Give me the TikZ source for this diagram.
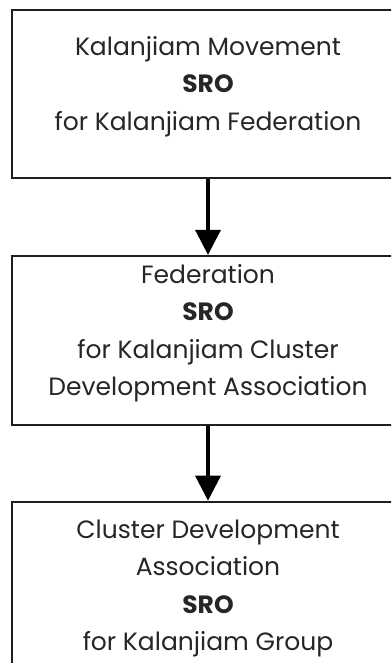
\documentclass[tikz,border=0pt]{standalone}
\usepackage{fontspec}
\setmainfont{Poppins}
\usetikzlibrary{arrows.meta,positioning}
\tikzset{
  sro_box/.style={rectangle,
    draw=black!88,line width=1.8pt,fill=white,
    minimum width=392pt,inner sep=0pt},
  sro_text/.style={align=center,inner sep=0pt,
    text=black!85,
    font=\fontsize{25}{37.5}\selectfont},
  down_arr/.style={-{Triangle[length=25pt,width=25pt]},line width=3.5pt,draw=black},
}
\begin{document}
\begin{tikzpicture}[x=1pt,y=1pt]
  \useasboundingbox (0,0) rectangle (391,-663);
  \clip (0,0) rectangle (391,-663);
  % the three levels
  \node (movement)   [sro_box,minimum height=168pt] at (208,-94) {};
  \node (federation) [sro_box,minimum height=169pt,below=76pt of movement] {};
  \node (cda)        [sro_box,minimum height=200pt,below=75pt of federation] {};
  % texts
  \node (movement_t) [sro_text,below=27pt of movement.north]
    {Kalanjiam Movement\\ \textbf{SRO}\\ for Kalanjiam Federation};
  \node (federation_t) [sro_text,below=9pt of federation.north]
    {Federation\\ \textbf{SRO}\\ for Kalanjiam Cluster\\ Development Association};
  \node (cda_t) [sro_text,below=19pt of cda.north]
    {Cluster Development\\ Association\\ \textbf{SRO}\\ for Kalanjiam Group};

  \draw[down_arr] (movement.south)   -- (federation.north);
  \draw[down_arr] (federation.south) -- (cda.north);
\end{tikzpicture}
\end{document}
